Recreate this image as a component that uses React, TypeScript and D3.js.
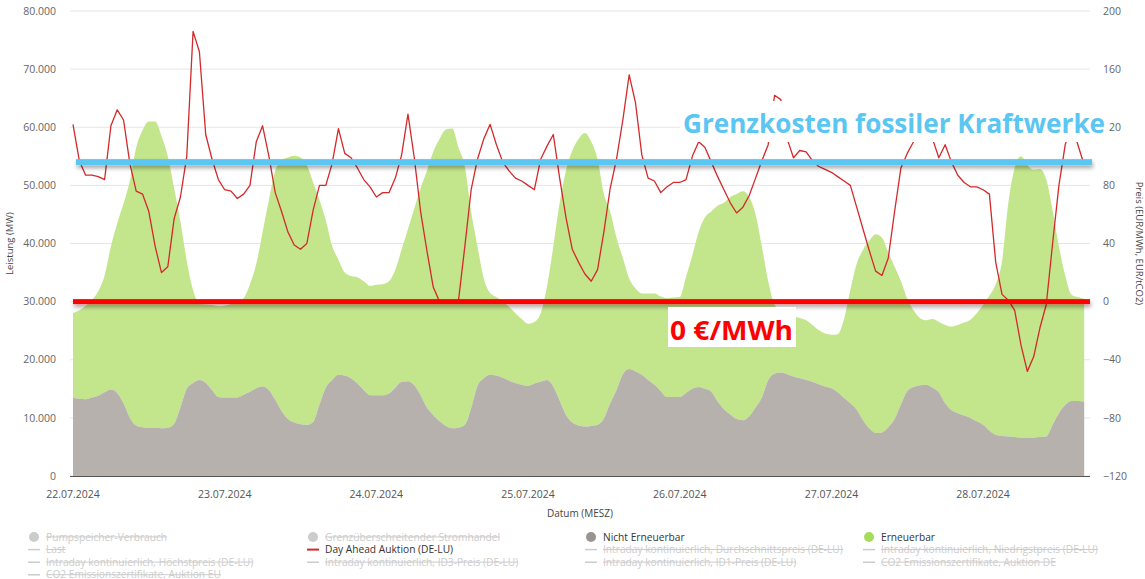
import React from 'react';
import * as d3 from 'd3';

// hourly values from 22.07.2024 00:00
const dayLabels = ['22.07.2024', '23.07.2024', '24.07.2024', '25.07.2024', '26.07.2024', '27.07.2024', '28.07.2024'];

const nichtErneuerbar = [
  13400, 13300, 13200, 13500, 13800, 14400, 14900, 14300, 12500, 10000,
  8700, 8400, 8300, 8300, 8200, 8300, 9000, 11800, 15000, 16000,
  16500, 16000, 14800, 13600, 13500, 13500, 13500, 14000, 14500, 15100,
  15400, 14800, 13100, 11200, 9800, 9200, 8900, 8800, 9300, 12300,
  15200, 16500, 17400, 17300, 16800, 15900, 14800, 13900, 13900, 13900,
  14200, 15200, 16200, 16300, 15600, 13900, 11800, 10500, 9400, 8600,
  8200, 8300, 8800, 11700, 15500, 16800, 17400, 17300, 16900, 16400,
  16000, 15700, 15500, 15900, 16200, 16500, 15400, 13000, 10500, 9200,
  8700, 8500, 8600, 8800, 9900, 12500, 14800, 17500, 18400, 18000,
  17400, 16500, 15700, 14600, 13600, 13600, 13600, 14300, 15000, 15300,
  15000, 14500, 12800, 11500, 10600, 9800, 9600, 10300, 11800, 13500,
  16500, 17600, 17800, 17500, 17100, 16800, 16500, 16200, 15800, 15400,
  15100, 14400, 13400, 12500, 11400, 9600, 8200, 7400, 7500, 8400,
  9800, 12300, 14600, 15300, 15600, 15700, 15200, 14400, 12500, 11300,
  10800, 10400, 10000, 9400, 8800, 7800, 7100, 6900, 6800, 6700,
  6600, 6600, 6600, 6700, 6800, 8800, 10800, 12200, 12900, 12900,
  12800,
];

const erneuerbar = [
  14600, 15200, 16100, 16800, 18000, 20100, 24600, 29200, 34400, 40800,
  47800, 51100, 52700, 52700, 50300, 46700, 40500, 32000, 22000, 16000,
  13100, 13500, 14600, 15600, 15800, 16100, 16500, 16600, 18500, 21400,
  26600, 32700, 39400, 43100, 45000, 45900, 45900, 44700, 41200, 35200,
  28800, 23100, 19800, 17700, 17600, 18300, 18700, 18800, 19000, 19100,
  19300, 20300, 22800, 26200, 30400, 35600, 40700, 45300, 48600, 51000,
  51600, 48200, 44400, 33800, 24000, 17200, 14100, 13500, 13100, 12700,
  12000, 11300, 10700, 10600, 11800, 16100, 24100, 34000, 42000, 46800,
  49300, 50500, 48900, 45700, 38600, 33000, 26200, 20000, 15600, 14300,
  14000, 14900, 15700, 16300, 17000, 17100, 17200, 20000, 23000, 26700,
  29500, 31000, 33700, 35500, 37400, 38700, 39400, 37700, 33200, 26000,
  17000, 11900, 10600, 10500, 10400, 10400, 10300, 9800, 9300, 9100,
  9200, 10000, 13600, 19500, 25100, 29300, 32300, 34200, 33500, 30100,
  26200, 21200, 15900, 13200, 11600, 11100, 11800, 12100, 13500, 14400,
  15200, 16000, 16900, 18600, 20600, 23200, 25900, 30100, 40200, 46300,
  48400, 46900, 46100, 46100, 44200, 36900, 28700, 22300, 18300, 17900,
  17700,
];

const dayAhead = [
  122, 97, 87, 87, 86, 84, 121, 132, 125, 95,
  76, 74, 62, 38, 20, 24, 57, 72, 100, 186,
  172, 115, 98, 84, 77, 76, 71, 74, 80, 110,
  121, 100, 75, 62, 48, 39, 36, 40, 63, 80,
  80, 95, 119, 102, 99, 92, 84, 79, 72, 75,
  75, 85, 101, 129, 99, 62, 35, 10, 0, -1,
  -1, 1, 38, 77, 98, 112, 122, 108, 96, 90,
  85, 83, 80, 77, 98, 107, 115, 85, 58, 36,
  27, 19, 14, 22, 48, 78, 98, 125, 156, 137,
  101, 85, 83, 75, 79, 82, 82, 84, 100, 110,
  106, 96, 86, 77, 68, 61, 65, 73, 85, 97,
  108, 142, 139, 112, 99, 104, 103, 97, 93, 91,
  89, 86, 83, 80, 65, 50, 35, 21, 18, 30,
  62, 92, 102, 110, 122, 125, 112, 99, 108, 96,
  87, 82, 79, 79, 77, 74, 27, 5, 1, -6,
  -30, -48, -38, -18, -2, 40, 80, 108, 122, 108,
  94,
];

const leistungTicks = [0, 10000, 20000, 30000, 40000, 50000, 60000, 70000, 80000];
const preisTicks = [-120, -80, -40, 0, 40, 80, 120, 160, 200];

const fossilCost = 96;
const zeroPrice = 0;

const legendItems = [
  { name: 'Pumpspeicher-Verbrauch', symbol: 'dot', active: false },
  { name: 'Grenzüberschreitender Stromhandel', symbol: 'dot', active: false },
  { name: 'Nicht Erneuerbar', symbol: 'dot', active: true },
  { name: 'Erneuerbar', symbol: 'dot', active: true },
  { name: 'Last', symbol: 'line', active: false },
  { name: 'Day Ahead Auktion (DE-LU)', symbol: 'line', active: true },
  { name: 'Intraday kontinuierlich, Durchschnittspreis (DE-LU)', symbol: 'line', active: false },
  { name: 'Intraday kontinuierlich, Niedrigstpreis (DE-LU)', symbol: 'line', active: false },
  { name: 'Intraday kontinuierlich, Höchstpreis (DE-LU)', symbol: 'line', active: false },
  { name: 'Intraday kontinuierlich, ID3-Preis (DE-LU)', symbol: 'line', active: false },
  { name: 'Intraday kontinuierlich, ID1-Preis (DE-LU)', symbol: 'line', active: false },
  { name: 'CO2 Emissionszertifikate, Auktion DE', symbol: 'line', active: false },
  { name: 'CO2 Emissionszertifikate, Auktion EU', symbol: 'line', active: false },
];

const colors = {
  grey: '#b6b1ad',
  green: '#c3e58c',
  price: '#d3292b',
  blue: '#5bc6f2',
  red: '#ff0000',
};
const legendColors = {
  'Nicht Erneuerbar': '#999491',
  'Erneuerbar': '#a5dc5a',
  'Day Ahead Auktion (DE-LU)': colors.price,
};

const W = 1145;
const H = 579;
const top = 11;
const bottom = 476;
const left = 70;
const right = 1090;
const font = '"Open Sans", sans-serif';

const de = d3.formatLocale({ decimal: ',', thousands: '.', grouping: [3], currency: ['', ' €'] });
const fmt = de.format(',');

export default function App() {
  const hours = d3.range(dayAhead.length);
  const x = d3.scaleLinear().domain([0, 160]).range([73, 73 + 160 * 6.32]);
  const yMW = d3.scaleLinear().domain([0, 80000]).range([bottom, top]);
  const yP = d3.scaleLinear().domain([-120, 200]).range([bottom, top]);

  const rows = hours.map((h) => ({ h, ne: nichtErneuerbar[h], e: erneuerbar[h] }));
  const stacked = d3.stack<any>().keys(['ne', 'e'])(rows);

  const area = d3.area<any>()
    .x((d) => x(d.data.h))
    .y0((d) => yMW(d[0]))
    .y1((d) => yMW(d[1]))
    .curve(d3.curveMonotoneX);

  const priceLine = d3.line<number>()
    .x((d, i) => x(i))
    .y((d) => yP(d));

  const dayTicks = dayLabels.map((_, i) => i * 24);

  return (
    <div style={{ position: 'fixed', left: 0, top: 0 }}>
      <svg width={W} height={H} style={{ display: 'block', background: '#fff' }}>
        <defs>
          <filter id="shadow" filterUnits="userSpaceOnUse" x="0" y="0" width={W} height={H}>
            <feDropShadow dx="1" dy="3" stdDeviation="2" floodColor="#000" floodOpacity="0.35" />
          </filter>
        </defs>

        {leistungTicks.map((t) => (
          <line key={t} x1={left} x2={right} y1={yMW(t)} y2={yMW(t)} stroke="#e6e6e6" />
        ))}

        <path d={area(stacked[1]) || ''} fill={colors.green} />
        <path d={area(stacked[0]) || ''} fill={colors.grey} />

        <line x1={left} x2={right} y1={bottom + 0.5} y2={bottom + 0.5} stroke="#555" />

        <path d={priceLine(dayAhead) || ''} fill="none" stroke={colors.price} strokeWidth={1.3} strokeLinejoin="round" />

        {leistungTicks.map((t) => (
          <text key={t} x={56} y={yMW(t)} dy="0.35em" textAnchor="end" fontFamily={font} fontSize={10.5} fill="#666">
            {fmt(t)}
          </text>
        ))}
        {preisTicks.map((t) => (
          <text key={t} x={1103} y={yP(t)} dy="0.35em" fontFamily={font} fontSize={10.5} fill="#666">
            {fmt(t)}
          </text>
        ))}
        {dayTicks.map((h, i) => (
          <text key={h} x={x(h)} y={498} textAnchor="middle" fontFamily={font} fontSize={10.5} fill="#555">
            {dayLabels[i]}
          </text>
        ))}

        <text transform={`translate(13,${(top + bottom) / 2}) rotate(-90)`} textAnchor="middle" fontFamily={font} fontSize={9.5} fill="#444">
          Leistung (MW)
        </text>
        <text transform={`translate(1136,${(top + bottom) / 2}) rotate(90)`} textAnchor="middle" fontFamily={font} fontSize={9.5} fill="#444">
          Preis (EUR/MWh, EUR/tCO2)
        </text>
        <text x={580} y={517} textAnchor="middle" fontFamily={font} fontSize={10} fill="#444">
          Datum (MESZ)
        </text>

        {/* annotations */}
        <rect x={76} width={1016} y={yP(fossilCost) - 3} height={6} fill={colors.blue} filter="url(#shadow)" />
        <rect x={73} width={1017} y={yP(zeroPrice) - 2.5} height={5} fill={colors.red} filter="url(#shadow)" />

        <rect x={680} y={101} width={428} height={41} fill="#fff" />
        <text x={683} y={133} fontFamily={font} fontWeight={700} fontSize={27} fill={colors.blue} textLength={422} lengthAdjust="spacingAndGlyphs">
          Grenzkosten fossiler Kraftwerke
        </text>
        <rect x={668} y={307} width={128} height={40} fill="#fff" />
        <text x={670} y={340} fontFamily={font} fontWeight={700} fontSize={27} fill={colors.red} textLength={123} lengthAdjust="spacingAndGlyphs">
          0 €/MWh
        </text>

        {/* legend */}
        {legendItems.map((item, i) => {
          const colX = [34, 313, 591, 869][i % 4];
          const cy = 537 + Math.floor(i / 4) * 12.6;
          const c = item.active ? (legendColors as any)[item.name] : '#cccccc';
          return (
            <g key={item.name}>
              {item.symbol === 'dot' ? (
                <circle cx={colX} cy={cy} r={5} fill={c} />
              ) : (
                <line x1={colX - 6} x2={colX + 6} y1={cy} y2={cy} stroke={c} strokeWidth={item.active ? 2 : 1.5} />
              )}
              <text
                x={colX + 12}
                y={cy}
                dy="0.35em"
                fontFamily={font}
                fontSize={10.2}
                fill={item.active ? '#333' : '#cccccc'}
                textDecoration={item.active ? 'none' : 'line-through'}
              >
                {item.name}
              </text>
            </g>
          );
        })}
      </svg>
    </div>
  );
}
